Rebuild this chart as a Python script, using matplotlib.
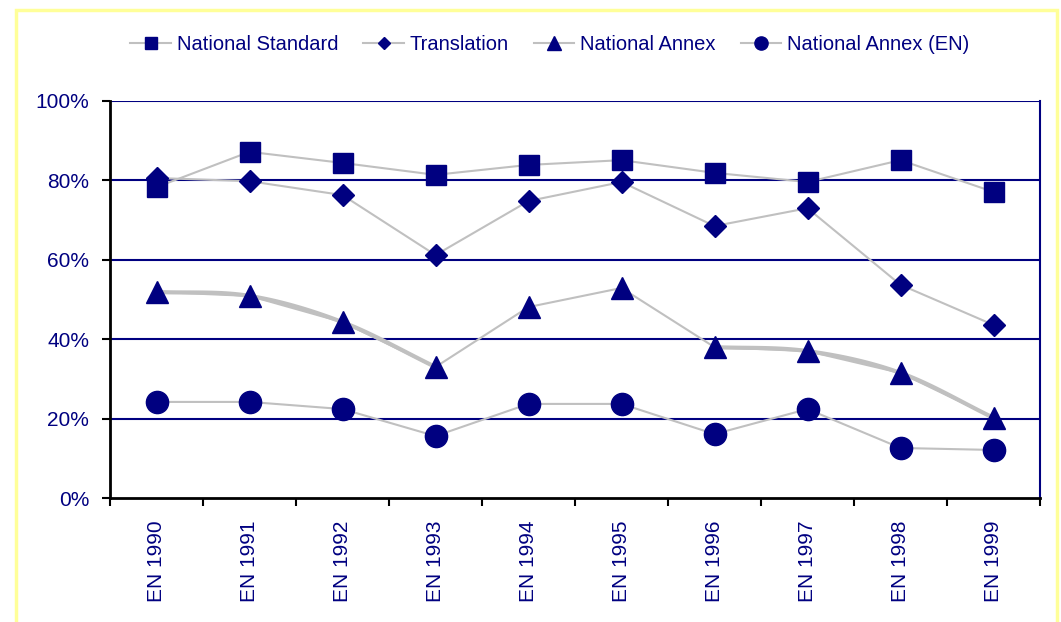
import numpy as np
import matplotlib
matplotlib.use("Agg")
import matplotlib.pyplot as plt
from matplotlib.patches import Rectangle
from matplotlib.lines import Line2D

categories = ["EN 1990", "EN 1991", "EN 1992", "EN 1993", "EN 1994",
              "EN 1995", "EN 1996", "EN 1997", "EN 1998", "EN 1999"]
national_standard = [78.3, 87.2, 84.4, 81.4, 83.9, 85.1, 81.9, 79.6, 85.1, 77.1]
translation = [80.6, 79.8, 76.3, 61.2, 74.8, 79.6, 68.5, 73.0, 53.7, 43.6]
national_annex = [51.9, 50.9, 44.3, 33.0, 48.1, 52.9, 38.0, 37.0, 31.5, 20.2]
national_annex_en = [24.2, 24.2, 22.4, 15.6, 23.7, 23.7, 16.1, 22.4, 12.6, 12.1]
yticks = [0, 20, 40, 60, 80, 100]

NAVY = "#000080"
GREY = "#c0c0c0"
plt.rcParams['font.family'] = ['Liberation Sans', 'DejaVu Sans']

fig = plt.figure(figsize=(10.61, 6.22), dpi=100)
W, H = 1061, 622
fig.patches.append(Rectangle((16 / W, -0.05), (1057 - 16) / W, (622 - 10) / H + 0.05,
                             transform=fig.transFigure, fill=False,
                             edgecolor="#ffff99", linewidth=2.5))
ax = fig.add_axes([110 / W, 1 - 498 / H, (1040 - 110) / W, (498 - 101) / H])

x = np.arange(len(categories)) + 0.5

def smooth(xs, ys, n=30):
    # Catmull-Rom spline through the data points of a segment
    px, py = [], []
    xs = list(xs); ys = list(ys)
    ext_x = [2 * xs[0] - xs[1]] + xs + [2 * xs[-1] - xs[-2]]
    ext_y = [2 * ys[0] - ys[1]] + ys + [2 * ys[-1] - ys[-2]]
    for i in range(1, len(ext_x) - 2):
        t = np.linspace(0, 1, n)
        for arr, out in ((ext_x, px), (ext_y, py)):
            p0, p1, p2, p3 = arr[i - 1], arr[i], arr[i + 1], arr[i + 2]
            out.extend(0.5 * (2 * p1 + (-p0 + p2) * t + (2 * p0 - 5 * p1 + 4 * p2 - p3) * t ** 2
                              + (-p0 + 3 * p1 - 3 * p2 + p3) * t ** 3))
    return px, py

series = [
    ("National Standard", national_standard, "s", 15, 9),
    ("Translation", translation, "D", 11, 6),
    ("National Annex", national_annex, "^", 16, 9.5),
    ("National Annex (EN)", national_annex_en, "o", 16, 9.5),
]

for yv in yticks[1:]:
    ax.axhline(yv, color=NAVY, linewidth=1.5, zorder=1)

# thicker smoothed segments on the National Annex series
for a, b in ((0, 4), (6, 10)):
    sx, sy = smooth(x[a:b], national_annex[a:b])
    ax.plot(sx, sy, color=GREY, linewidth=3, zorder=2, solid_capstyle="round")

handles = []
for name, vals, mk, ms, lms in series:
    ax.plot(x, vals, color=GREY, linewidth=1.5, zorder=2)
    ax.plot(x, vals, linestyle="none", marker=mk, markersize=ms,
            color=NAVY, markeredgecolor=NAVY, zorder=3)
    handles.append(Line2D([], [], color=GREY, linewidth=1.5, marker=mk,
                          markersize=lms, markerfacecolor=NAVY,
                          markeredgecolor=NAVY, label=name))

ax.set_xlim(0, len(categories))
ax.set_ylim(0, 100)
ax.set_yticks(yticks)
ax.set_yticklabels([f"{v}%" for v in yticks], color=NAVY, fontsize=15)
ax.set_xticks(np.arange(len(categories) + 1))
ax.set_xticklabels([])
ax.set_xticks(x, minor=True)
ax.set_xticklabels(categories, minor=True, rotation=90, color=NAVY, fontsize=15)
ax.tick_params(axis="x", which="minor", length=0, pad=16)
ax.tick_params(axis="x", which="major", length=6, width=1.5, direction="out", color="black")
ax.tick_params(axis="y", length=6, width=1.5, direction="out", color="black", pad=9)

ax.spines["left"].set_color("black")
ax.spines["left"].set_linewidth(2)
ax.spines["bottom"].set_color("black")
ax.spines["bottom"].set_linewidth(2)
ax.spines["right"].set_color(NAVY)
ax.spines["right"].set_linewidth(1.5)
ax.spines["top"].set_visible(False)

leg = fig.legend(handles=handles, loc="center", bbox_to_anchor=(550 / W, 1 - 45 / H),
                 ncol=4, frameon=False, fontsize=14.5, handlelength=2.0,
                 handletextpad=0.3, columnspacing=1.25)
for t in leg.get_texts():
    t.set_color(NAVY)

fig.savefig("out.png", dpi=100)
